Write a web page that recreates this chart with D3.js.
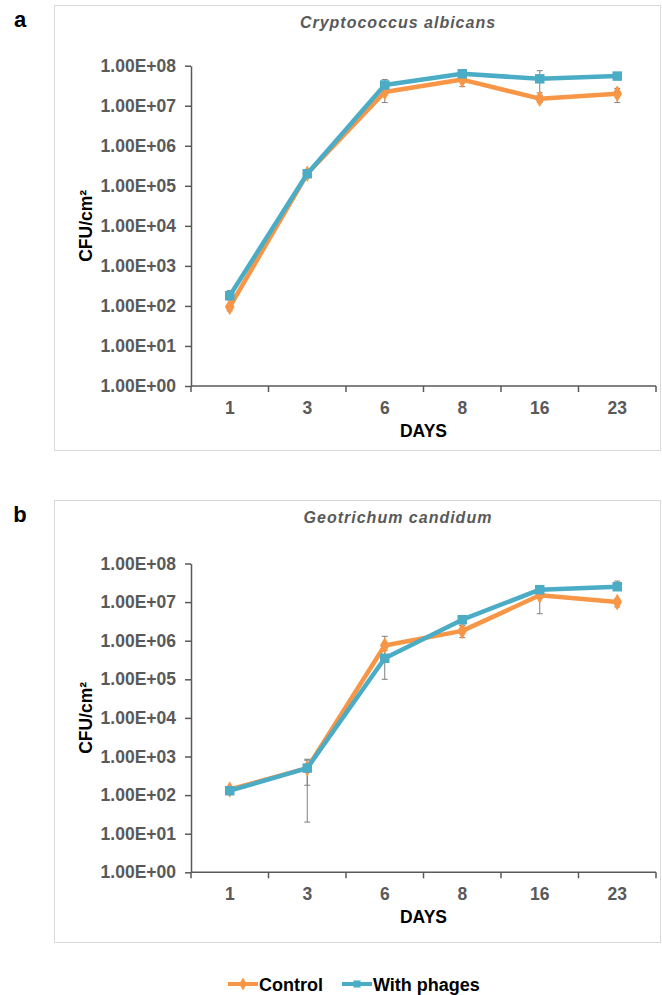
<!DOCTYPE html>
<html>
<head>
<meta charset="utf-8">
<script src="https://cdn.jsdelivr.net/npm/d3@7"></script>
<style>
body { margin: 0; background: #fff; }
svg { display: block; font-family: "Liberation Sans", Arial, sans-serif; }
</style>
</head>
<body>
<svg id="chart" width="662" height="995"></svg>
<script>
// days on the x axis (categories)
var days = ["1", "3", "6", "8", "16", "23"];
var decades = [0, 1, 2, 3, 4, 5, 6, 7, 8];

// panel a - Cryptococcus albicans
var a_control = [9.5e1, 2.0e5, 2.2e7, 4.5e7, 1.5e7, 2.0e7];
var a_control_lo = [7.5e1, 1.8e5, 1.2e7, 3.0e7, 1.2e7, 1.2e7];
var a_control_hi = [1.1e2, 2.2e5, 3.0e7, 5.5e7, 1.8e7, 2.7e7];
var a_phages = [1.8e2, 2.0e5, 3.3e7, 6.3e7, 4.7e7, 5.5e7];
var a_phages_lo = [1.4e2, 1.8e5, 2.5e7, 5.0e7, 2.1e7, 4.5e7];
var a_phages_hi = [2.4e2, 2.3e5, 4.5e7, 7.5e7, 7.5e7, 6.5e7];

// panel b - Geotrichum candidum
var b_control = [1.4e2, 5.0e2, 7.5e5, 1.8e6, 1.5e7, 1.0e7];
var b_control_lo = [1.1e2, 1.8e2, 4.0e5, 1.2e6, 5.0e6, 7.5e6];
var b_control_hi = [1.6e2, 8.5e2, 1.3e6, 2.5e6, 1.8e7, 1.2e7];
var b_phages = [1.3e2, 5.0e2, 3.5e5, 3.5e6, 2.1e7, 2.5e7];
var b_phages_lo = [1.1e2, 2.0e1, 1.0e5, 2.5e6, 1.8e7, 2.0e7];
var b_phages_hi = [1.5e2, 8.0e2, 5.5e5, 4.2e6, 2.4e7, 3.5e7];

var orange = "#F79646", teal = "#4BACC6", axisCol = "#595959";

var svg = d3.select("#chart");

var panels = [
	{ letter: "a", title: "Cryptococcus albicans", box: [54, 5, 606, 445], yTop: 65.7, yBot: 386,
	  series: [
		{ v: a_control, lo: a_control_lo, hi: a_control_hi, color: orange, shape: d3.symbolDiamond },
		{ v: a_phages, lo: a_phages_lo, hi: a_phages_hi, color: teal, shape: d3.symbolSquare }
	  ] },
	{ letter: "b", title: "Geotrichum candidum", box: [54, 500, 606, 442], yTop: 563.5, yBot: 872.3,
	  series: [
		{ v: b_control, lo: b_control_lo, hi: b_control_hi, color: orange, shape: d3.symbolDiamond },
		{ v: b_phages, lo: b_phages_lo, hi: b_phages_hi, color: teal, shape: d3.symbolSquare }
	  ] }
];

var x = d3.scaleBand().domain(days).range([191, 656]);
var bw = x.bandwidth();

panels.forEach(function(p) {
	var g = svg.append("g");

	g.append("rect")
	.attr("x", p.box[0] + 0.5).attr("y", p.box[1] + 0.5)
	.attr("width", p.box[2]).attr("height", p.box[3])
	.attr("fill", "none").attr("stroke", "#d9d9d9");

	g.append("text")
	.attr("x", 20).attr("y", p.box[1] + 22)
	.attr("text-anchor", "middle")
	.attr("font-size", 22).attr("font-weight", "bold")
	.text(p.letter);

	g.append("text")
	.attr("x", 398).attr("y", p.box[1] + 23)
	.attr("text-anchor", "middle")
	.attr("font-size", 16).attr("font-weight", "bold").attr("font-style", "italic")
	.attr("letter-spacing", 1)
	.attr("fill", axisCol)
	.text(p.title);

	var y = d3.scaleLog().domain([1, 1e8]).range([p.yBot, p.yTop]);

	// y axis
	g.append("g")
	.attr("transform", "translate(191,0)")
	.call(d3.axisLeft(y)
		.tickValues(decades.map(function(e) { return Math.pow(10, e); }))
		.tickFormat(function(d) { return "1.00E+" + String(Math.round(Math.log10(d))).padStart(2, "0"); })
		.tickSize(6).tickSizeOuter(0).tickPadding(9))
	.call(function(a) {
		a.select(".domain").attr("stroke", axisCol).attr("stroke-width", 1.5);
		a.selectAll(".tick line").attr("stroke", axisCol).attr("stroke-width", 1.5);
		a.selectAll(".tick text").attr("fill", axisCol)
		.attr("font-size", 17.5).attr("font-weight", "bold")
		.attr("font-family", "Liberation Sans, Arial, sans-serif");
	});

	// x axis: ticks on band edges, labels in the middle
	var xa = g.append("g").attr("transform", "translate(0," + p.yBot + ")");
	xa.append("line")
	.attr("x1", x.range()[0]).attr("x2", x.range()[1])
	.attr("stroke", axisCol).attr("stroke-width", 1.5);
	var edges = days.map(function(d) { return x(d); }).concat([x.range()[1]]);
	xa.selectAll("line.tk").data(edges).enter().append("line")
	.attr("class", "tk")
	.attr("x1", function(d) { return d; }).attr("x2", function(d) { return d; })
	.attr("y1", 0).attr("y2", 6)
	.attr("stroke", axisCol).attr("stroke-width", 1.5);
	xa.selectAll("text").data(days).enter().append("text")
	.attr("x", function(d) { return x(d) + bw / 2; })
	.attr("y", 28)
	.attr("text-anchor", "middle")
	.attr("font-size", 17.5).attr("font-weight", "bold")
	.attr("fill", axisCol)
	.text(function(d) { return d; });

	g.append("text")
	.attr("x", x(days[0]) + (x.range()[1] - x.range()[0]) / 2)
	.attr("y", p.yBot + 51)
	.attr("text-anchor", "middle")
	.attr("font-size", 17.5).attr("font-weight", "bold")
	.text("DAYS");

	g.append("text")
	.attr("transform", "translate(92," + ((p.yTop + p.yBot) / 2) + ") rotate(-90)")
	.attr("text-anchor", "middle")
	.attr("font-size", 17.5).attr("font-weight", "bold")
	.text("CFU/cm²");

	var line = d3.line()
	.x(function(d, i) { return x(days[i]) + bw / 2; })
	.y(function(d) { return y(d); });

	p.series.forEach(function(s) {
		var eg = g.append("g").attr("stroke", "#7f7f7f").attr("stroke-width", 1);
		days.forEach(function(d, i) {
			var cx = x(d) + bw / 2;
			eg.append("line").attr("x1", cx).attr("x2", cx).attr("y1", y(s.lo[i])).attr("y2", y(s.hi[i]));
			eg.append("line").attr("x1", cx - 3).attr("x2", cx + 3).attr("y1", y(s.lo[i])).attr("y2", y(s.lo[i]));
			eg.append("line").attr("x1", cx - 3).attr("x2", cx + 3).attr("y1", y(s.hi[i])).attr("y2", y(s.hi[i]));
		});
	});

	p.series.forEach(function(s) {
		g.append("path")
		.datum(s.v)
		.attr("d", line)
		.attr("fill", "none")
		.attr("stroke", s.color)
		.attr("stroke-width", 4.5)
		.attr("stroke-linejoin", "round");

		g.selectAll(null).data(s.v).enter().append("path")
		.attr("transform", function(d, i) { return "translate(" + (x(days[i]) + bw / 2) + "," + y(d) + ")"; })
		.attr("d", d3.symbol().type(s.shape).size(s.shape === d3.symbolSquare ? 90 : 80))
		.attr("fill", s.color);
	});
});

// legend
var legend = svg.append("g").attr("transform", "translate(0,984)");
var items = [
	{ label: "Control", color: orange, shape: d3.symbolDiamond, x0: 228 },
	{ label: "With phages", color: teal, shape: d3.symbolSquare, x0: 342 }
];
items.forEach(function(it) {
	legend.append("line")
	.attr("x1", it.x0).attr("x2", it.x0 + 30)
	.attr("stroke", it.color).attr("stroke-width", 4);
	legend.append("path")
	.attr("transform", "translate(" + (it.x0 + 15) + ",0)")
	.attr("d", d3.symbol().type(it.shape).size(50))
	.attr("fill", it.color);
	legend.append("text")
	.attr("x", it.x0 + 31).attr("y", 6.5)
	.attr("font-size", 18).attr("font-weight", "bold")
	.text(it.label);
});
</script>
</body>
</html>
